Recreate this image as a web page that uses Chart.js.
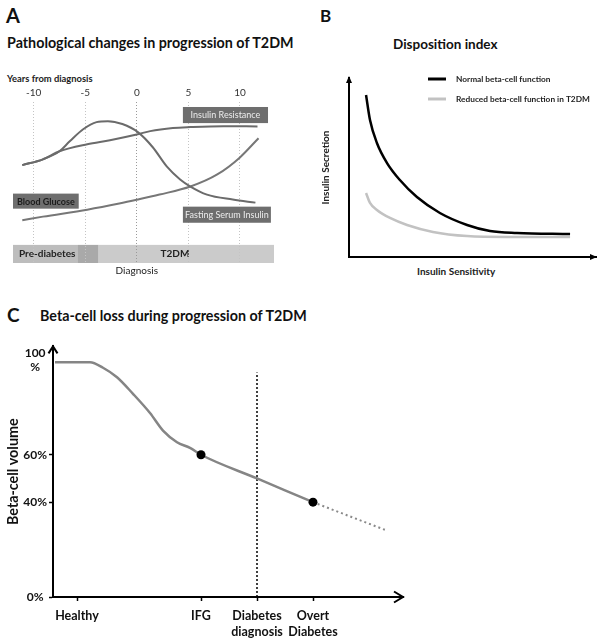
<!DOCTYPE html>
<html>
<head>
<meta charset="utf-8">
<script src="https://cdn.jsdelivr.net/npm/chart.js@4.4.1/dist/chart.umd.min.js"></script>
<style>
  body { margin: 0; background: #fff; width: 600px; height: 642px; position: relative; overflow: hidden; font-family: Lato, 'Open Sans', sans-serif; color: #111; }
  .txt { position: absolute; white-space: nowrap; line-height: 1; font-weight: bold; }
  canvas { position: absolute; }
</style>
</head>
<body>
<div class="txt" style="left:6px;top:5px;font-size:20px">A</div>
<div class="txt" style="left:7px;top:36px;font-size:14.3px">Pathological changes in progression of T2DM</div>
<div class="txt" style="left:7px;top:74px;font-size:9.4px;color:#222">Years from diagnosis</div>
<div class="txt" style="left:320px;top:7px;font-size:17px">B</div>
<div class="txt" style="left:393px;top:38px;font-size:13.5px">Disposition index</div>
<div class="txt" style="left:417px;top:266px;font-size:10px;color:#222">Insulin Sensitivity</div>
<div class="txt" style="left:7px;top:305px;font-size:19px">C</div>
<div class="txt" style="left:40px;top:309px;font-size:14.3px">Beta-cell loss during progression of T2DM</div>

<canvas id="chartA" width="300" height="290" style="left:0;top:0"></canvas>
<canvas id="chartB" width="300" height="290" style="left:300px;top:0"></canvas>
<canvas id="chartC" width="420" height="312" style="left:0;top:330px"></canvas>

<script>
// ---- panel A: pathological changes (years from diagnosis) ----
const yearTicks = [-10, -5, 0, 5, 10];
const resistanceYears = [-11.1, -9.1, -7.5, -4.8, -2.6, 0.1, 1.3, 3.5, 5.2, 8.4, 11.7];
const resistanceLevel = [60.8, 64.4, 69.4, 73.8, 76.3, 80, 81.9, 83.8, 84.4, 85, 84.8];
const insulinYears = [-11.1, -9.1, -7.5, -6.5, -5.2, -3.9, -2.8, -1.4, 0.1, 1.55, 2.9, 4.2, 5.2, 6.8, 9.3, 11.5];
const insulinLevel = [60.8, 64.4, 69.4, 75.6, 83.1, 87.5, 88.1, 86.3, 81.3, 71.9, 60, 51.9, 47.5, 42.5, 39.4, 37.5];
const glucoseYears = [-11.1, -9.1, -4.8, -1.7, 0.1, 2.2, 5.2, 7.8, 10, 11.8];
const glucoseLevel = [26.6, 28.8, 33.1, 36.9, 39.4, 42.5, 47.5, 55, 65.6, 77.5];
const phaseNames = ['Pre-diabetes', '', 'T2DM'];
const phaseStart = [-12, -5.7, -3.7];
const phaseEnd = [-5.7, -3.7, 13.3];

// ---- panel B: disposition index ----
const normalSensitivity = [6.9, 8.5, 11.3, 15.4, 20.6, 27.5, 36.8, 47.8, 57.1, 68, 89.5];
const normalSecretion = [90.5, 76.5, 63.7, 52.5, 43, 33.5, 24.6, 17.9, 14.5, 13.4, 12.8];
const reducedSensitivity = [6.9, 8.5, 11.3, 16.6, 23.5, 34, 47.8, 64, 89.5];
const reducedSecretion = [35.8, 30.2, 26.3, 21.8, 17.9, 14, 11.7, 11.2, 11.2];

// ---- panel C: beta-cell loss ----
const stageNames = [['Healthy'], ['IFG'], ['Diabetes', 'diagnosis'], ['Overt', 'Diabetes']];
const stagePositions = [2.4, 14.8, 20.4, 26.0];
const volumeTicks = [0, 40, 60, 100];
const volumeLabels = ['0%', '40%', '60%', ['100', '%']];
const lossX = [0.2, 3.7, 5.0, 6.4, 8.0, 9.7, 11.0, 12.4, 13.7, 14.8, 20.4, 26.0];
const lossPct = [99, 99, 96.7, 92.7, 85.7, 77.6, 70.2, 65.3, 62.9, 60, 50, 40];
const milestoneX = [14.8, 26.0];
const milestonePct = [60, 40];
const projectionX = [26.0, 33.4];
const projectionPct = [40, 28];
const diagnosisX = [20.4, 20.4];
const diagnosisPct = [0, 94.7];

const toPoints = (xs, ys) => xs.map((x, i) => ({ x: x, y: ys[i] }));
const FONT = "Lato, 'Open Sans', sans-serif";

Chart.defaults.font.family = FONT;
Chart.defaults.color = '#222';
Chart.defaults.animation = false;
Chart.defaults.responsive = false;
Chart.defaults.plugins.legend.display = false;
Chart.defaults.plugins.tooltip.enabled = false;
Chart.defaults.elements.point.radius = 0;

// phase bar, label boxes and "Diagnosis" for panel A
const panelAExtras = {
  id: 'panelAExtras',
  beforeDraw(chart) {
    const { ctx, scales: { x, y } } = chart;
    const colors = ['#bdbdbd', '#a9a9a9', '#cbcbcb'];
    const top = y.getPixelForValue(11.25), bottom = y.getPixelForValue(0);
    ctx.save();
    phaseStart.forEach((s, i) => {
      const x0 = x.getPixelForValue(s), x1 = x.getPixelForValue(phaseEnd[i]);
      ctx.fillStyle = colors[i];
      ctx.fillRect(x0, top, x1 - x0, bottom - top);
    });
    ctx.fillStyle = '#222';
    ctx.font = 'bold 10px ' + FONT;
    ctx.textBaseline = 'middle';
    const mid = (top + bottom) / 2;
    ctx.textAlign = 'left';
    ctx.fillText(phaseNames[0], x.getPixelForValue(phaseStart[0]) + 6, mid);
    ctx.textAlign = 'center';
    ctx.fillText(phaseNames[2], x.getPixelForValue(3.7), mid);
    ctx.restore();
  },
  afterDatasetsDraw(chart) {
    const { ctx, scales: { x, y } } = chart;
    const boxes = [
      { text: 'Insulin Resistance', x0: 4.47, x1: 12.72, y0: 96.9, y1: 86.9, color: '#ececec', weight: 'normal' },
      { text: 'Blood Glucose', x0: -12.0, x1: -5.63, y0: 43.1, y1: 33.75, color: '#1c1c1c', weight: 'bold' },
      { text: 'Fasting Serum Insulin', x0: 4.47, x1: 13.0, y0: 35, y1: 25, color: '#ececec', weight: 'normal' }
    ];
    ctx.save();
    boxes.forEach(b => {
      const l = x.getPixelForValue(b.x0), r = x.getPixelForValue(b.x1);
      const t = y.getPixelForValue(b.y0), btm = y.getPixelForValue(b.y1);
      ctx.fillStyle = '#6e6e6e';
      ctx.fillRect(l, t, r - l, btm - t);
      ctx.fillStyle = b.color;
      ctx.font = b.weight + ' 9px ' + FONT;
      ctx.textAlign = 'center';
      ctx.textBaseline = 'middle';
      ctx.fillText(b.text, (l + r) / 2, (t + btm) / 2 + 0.5);
    });
    ctx.restore();
  },
  afterDraw(chart) {
    const { ctx, chartArea, scales: { x } } = chart;
    ctx.save();
    ctx.fillStyle = '#222';
    ctx.font = '10px ' + FONT;
    ctx.textAlign = 'center';
    ctx.textBaseline = 'middle';
    ctx.fillText('Diagnosis', x.getPixelForValue(0), chartArea.bottom + 8);
    ctx.restore();
  }
};

new Chart(document.getElementById('chartA'), {
  type: 'line',
  data: {
    datasets: [
      { label: 'Insulin Resistance', data: toPoints(resistanceYears, resistanceLevel), borderColor: '#6b6b6b', borderWidth: 2, cubicInterpolationMode: 'monotone' },
      { label: 'Fasting Serum Insulin', data: toPoints(insulinYears, insulinLevel), borderColor: '#6b6b6b', borderWidth: 2, cubicInterpolationMode: 'monotone' },
      { label: 'Blood Glucose', data: toPoints(glucoseYears, glucoseLevel), borderColor: '#777777', borderWidth: 2, cubicInterpolationMode: 'monotone' }
    ]
  },
  options: {
    layout: { padding: { left: 13, right: 26, top: 80, bottom: 27 } },
    scales: {
      x: {
        type: 'linear', position: 'top', min: -12, max: 13.3,
        afterBuildTicks: s => { s.ticks = yearTicks.map(v => ({ value: v })); },
        afterFit: s => { s.height = 22; },
        ticks: { font: { size: 10 }, color: '#333', padding: 3, maxRotation: 0, autoSkip: false },
        grid: { drawTicks: false, lineWidth: 1, color: c => (c.tick && c.tick.value === 0) ? '#9a9a9a' : '#c4c4c4' },
        border: { display: false, dash: [1, 2] }
      },
      y: { display: false, min: 0, max: 100 }
    }
  },
  plugins: [panelAExtras]
});

// legend + arrows for panel B
const panelBExtras = {
  id: 'panelBExtras',
  afterDraw(chart) {
    const { ctx, chartArea: a } = chart;
    ctx.save();
    chart.data.datasets.forEach((ds, i) => {
      const y = a.top + 1 + i * 20;
      const x = a.left + 79;
      ctx.strokeStyle = ds.borderColor;
      ctx.lineWidth = 3;
      ctx.beginPath();
      ctx.moveTo(x, y);
      ctx.lineTo(x + 18, y);
      ctx.stroke();
      ctx.fillStyle = '#222';
      ctx.font = 'bold 8.3px ' + FONT;
      ctx.textAlign = 'left';
      ctx.textBaseline = 'middle';
      ctx.fillText(ds.label, x + 28, y);
    });
    ctx.fillStyle = '#000';
    ctx.beginPath();
    ctx.moveTo(a.left, a.top - 2);
    ctx.lineTo(a.left - 3, a.top + 5);
    ctx.lineTo(a.left + 3, a.top + 5);
    ctx.closePath();
    ctx.fill();
    ctx.beginPath();
    ctx.moveTo(a.right + 1, a.bottom);
    ctx.lineTo(a.right - 6, a.bottom - 3);
    ctx.lineTo(a.right - 6, a.bottom + 3);
    ctx.closePath();
    ctx.fill();
    ctx.restore();
  }
};

new Chart(document.getElementById('chartB'), {
  type: 'line',
  data: {
    datasets: [
      { label: 'Normal beta-cell function', data: toPoints(normalSensitivity, normalSecretion), borderColor: '#000000', borderWidth: 2.5, cubicInterpolationMode: 'monotone' },
      { label: 'Reduced beta-cell function in T2DM', data: toPoints(reducedSensitivity, reducedSecretion), borderColor: '#c2c2c2', borderWidth: 2.5, cubicInterpolationMode: 'monotone' }
    ]
  },
  options: {
    layout: { padding: { left: 20, right: 4, top: 78, bottom: 33 } },
    scales: {
      x: {
        type: 'linear', min: 0, max: 100,
        afterFit: s => { s.height = 0; },
        ticks: { display: false },
        grid: { display: false, drawTicks: false },
        border: { color: '#000', width: 2 }
      },
      y: {
        min: 0, max: 100,
        afterFit: s => { s.width = 29; },
        ticks: { display: false },
        grid: { display: false, drawTicks: false },
        border: { color: '#000', width: 2 },
        title: { display: true, text: 'Insulin Secretion', font: { size: 10, weight: 'bold' }, color: '#222', padding: { top: 0, bottom: 0 } }
      }
    }
  },
  plugins: [panelBExtras]
});

// open arrowheads for panel C
const panelCArrows = {
  id: 'panelCArrows',
  afterDraw(chart) {
    const { ctx, chartArea: a } = chart;
    ctx.save();
    ctx.strokeStyle = '#000';
    ctx.lineWidth = 2;
    ctx.beginPath();
    ctx.moveTo(a.left - 4.5, a.top + 7);
    ctx.lineTo(a.left, a.top);
    ctx.lineTo(a.left + 4.5, a.top + 7);
    ctx.moveTo(a.right - 9, a.bottom - 5.5);
    ctx.lineTo(a.right, a.bottom);
    ctx.lineTo(a.right - 9, a.bottom + 5.5);
    ctx.stroke();
    ctx.restore();
  }
};

new Chart(document.getElementById('chartC'), {
  type: 'line',
  data: {
    datasets: [
      { label: 'Milestones', data: toPoints(milestoneX, milestonePct), showLine: false, pointRadius: 4.5, pointBackgroundColor: '#000', pointBorderColor: '#000', borderWidth: 0 },
      { label: 'Beta-cell volume', data: toPoints(lossX, lossPct), borderColor: '#858585', borderWidth: 2.5, cubicInterpolationMode: 'monotone' },
      { label: 'Projection', data: toPoints(projectionX, projectionPct), borderColor: '#8a8a8a', borderWidth: 2, borderDash: [2, 3] },
      { label: 'Diabetes diagnosis', data: toPoints(diagnosisX, diagnosisPct), borderColor: '#000', borderWidth: 1.5, borderDash: [2, 2] }
    ]
  },
  options: {
    layout: { padding: { left: 4.6, right: 17, top: 8, bottom: 0 } },
    scales: {
      x: {
        type: 'linear', min: 0, max: 35,
        afterBuildTicks: s => { s.ticks = stagePositions.map(v => ({ value: v })); },
        afterFit: s => { s.height = 45; },
        ticks: {
          callback: v => stageNames[stagePositions.indexOf(v)],
          font: { size: 12.5, weight: 'bold', lineHeight: 1.3 }, color: '#111', padding: 7, maxRotation: 0, autoSkip: false
        },
        grid: { drawOnChartArea: false, tickLength: 4, tickColor: '#000', tickWidth: 1.5 },
        border: { color: '#000', width: 2 }
      },
      y: {
        min: 0, max: 105.7,
        afterBuildTicks: s => { s.ticks = volumeTicks.map(v => ({ value: v })); },
        afterFit: s => { s.width = 48.4; },
        ticks: {
          callback: v => volumeLabels[volumeTicks.indexOf(v)],
          font: { size: 12, weight: 'bold' }, color: '#111', padding: 2, crossAlign: 'center', autoSkip: false
        },
        grid: { drawOnChartArea: false, tickLength: 4, tickWidth: 1.5, tickColor: c => (c.tick && c.tick.value === 100) ? 'rgba(0,0,0,0)' : '#000' },
        border: { color: '#000', width: 2 },
        title: { display: true, text: 'Beta-cell volume', font: { size: 14.3, weight: 'bold' }, color: '#111', padding: { top: 0, bottom: 0 } }
      }
    }
  },
  plugins: [panelCArrows]
});
</script>
</body>
</html>
